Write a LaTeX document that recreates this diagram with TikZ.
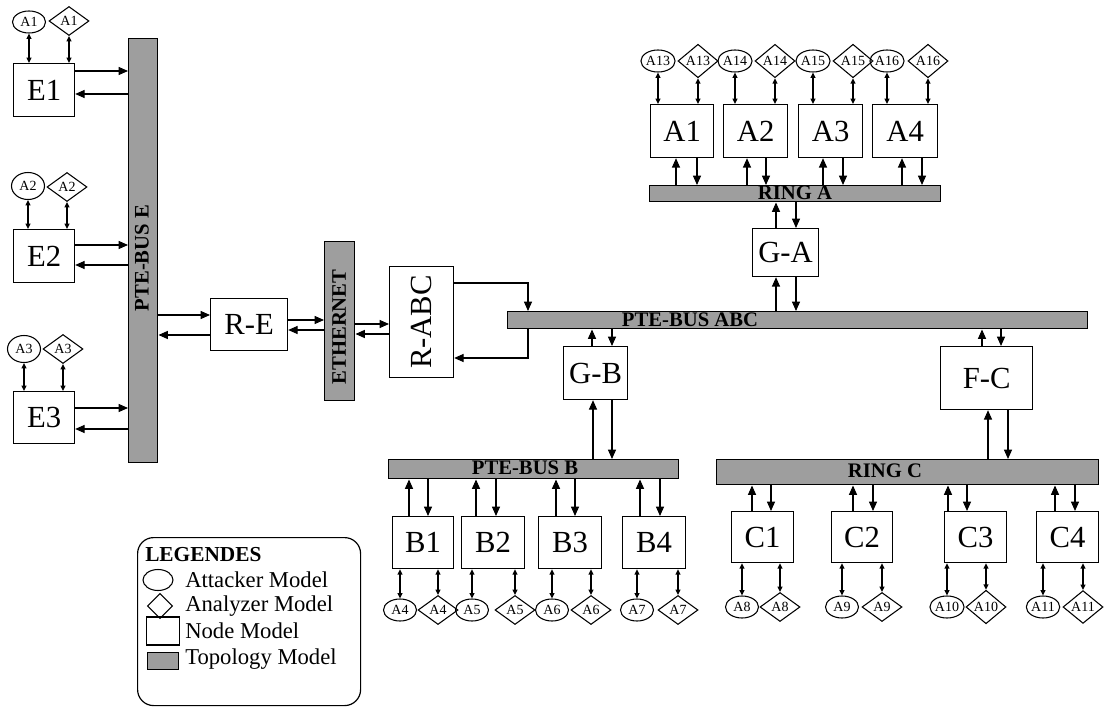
\documentclass[tikz,border=0pt]{standalone}
\usepackage{fontspec}
\setmainfont{Liberation Serif}
\usetikzlibrary{shapes.geometric,arrows.meta}

\newcommand\BoxN[6]{\node[nodebox,anchor=north west,minimum width={(#4-#2)*0.75pt},minimum height={(#5-#3)*0.75pt}] (#1) at (#2,#3) {#6};}
\newcommand\BarN[5]{\node[busbar,anchor=north west,minimum width={(#4-#2)*0.75pt},minimum height={(#5-#3)*0.75pt}] (#1) at (#2,#3) {};}
\newcommand\AttN[4]{\node[att] (#1) at (#2,#3) {#4};}
\newcommand\AnaN[4]{\node[ana] (#1) at (#2,#3) {#4};}

\tikzset{
  nodebox/.style={draw,line width=0.9pt,inner sep=0pt,font=\fontsize{23}{23}\selectfont},
  busbar/.style={draw,line width=1.1pt,inner sep=0pt,fill={rgb,255:red,158;green,158;blue,158}},
  buslabel/.style={font=\bfseries\fontsize{15.5}{15.5}\selectfont,text=black,inner sep=0pt},
  att/.style={ellipse,draw,line width=0.8pt,inner sep=0pt,minimum width=33*0.75pt,minimum height=22*0.75pt,font=\fontsize{10.5}{10.5}\selectfont},
  ana/.style={diamond,draw,line width=0.8pt,inner sep=0pt,minimum width=40*0.75pt,minimum height=29*0.75pt,font=\fontsize{10.5}{10.5}\selectfont},
  arr/.style={-{Triangle[length=7pt,width=6pt]},line width=0.8pt},
  dbl/.style={{Triangle[length=4pt,width=3.6pt]}-{Triangle[length=4pt,width=3.6pt]},line width=1pt},
  legtext/.style={anchor=west,inner sep=0pt,font=\fontsize{17}{17}\selectfont},
}

\begin{document}
\begin{tikzpicture}[x=0.75pt,y=-0.75pt]
\useasboundingbox (0,0) rectangle (1110,709);

% ---------------- E side ----------------
\BarN{busE}{128}{38}{157}{462}
\node[buslabel,rotate=90] (lbusE) at (142,258) {PTE-BUS E};

\BoxN{E1}{13}{63}{74}{116}{E1}
\BoxN{E2}{13}{229}{74}{282}{E2}
\BoxN{E3}{13}{391}{74}{443}{E3}
\AttN{e1a}{29}{22}{A1}  \AnaN{e1d}{69}{21}{A1}
\node[att,minimum height=27*0.75pt] (e2a) at (28,186) {A2}; \AnaN{e2d}{67}{187}{A2}
\node[att,minimum height=27*0.75pt] (e3a) at (24,349) {A3}; \AnaN{e3d}{63}{349}{A3}
\foreach \n/\b in {e1a/E1,e1d/E1,e2a/E2,e2d/E2,e3a/E3,e3d/E3}{
  \draw[dbl] (\n.south) -- (\b.north -| \n.south);
}
\draw[arr] (E1.east |- 0,71) -- (busE.west |- 0,71);
\draw[arr] (busE.west |- 0,94) -- (E1.east |- 0,94);
\draw[arr] (E2.east |- 0,245) -- (busE.west |- 0,245);
\draw[arr] (busE.west |- 0,265) -- (E2.east |- 0,265);
\draw[arr] (E3.east |- 0,408) -- (busE.west |- 0,408);
\draw[arr] (busE.west |- 0,429) -- (E3.east |- 0,429);

% ---------------- R-E / Ethernet / R-ABC ----------------
\BoxN{RE}{210}{298}{287}{350}{R-E}
\draw[arr] (busE.east |- 0,315) -- (RE.west |- 0,315);
\draw[arr] (RE.west |- 0,335) -- (busE.east |- 0,335);

\BarN{eth}{324}{241}{354}{400}
\node[buslabel,rotate=90] (leth) at (339,327) {ETHERNET};
\draw[arr] (RE.east |- 0,320) -- (eth.west |- 0,320);
\draw[arr] (eth.west |- 0,330) -- (RE.east |- 0,330);

\node[nodebox,anchor=north west,minimum width={64*0.75pt},minimum height={111*0.75pt}] (RABC) at (389,266) {};
\node[rotate=90,inner sep=0pt,font=\fontsize{23}{23}\selectfont] (lRABC) at (RABC.center) {R-ABC};
\draw[arr] (eth.east |- 0,324) -- (RABC.west |- 0,324);
\draw[arr] (RABC.west |- 0,334) -- (eth.east |- 0,334);

% ---------------- PTE-BUS ABC ----------------
\BarN{busABC}{507}{311}{1087}{328}
\node[buslabel] (lbusABC) at (690,320) {PTE-BUS ABC};
\draw[arr] (RABC.east |- 0,283) -| (busABC.north -| 528,0);
\draw[arr] (busABC.south -| 528,0) |- (RABC.east |- 0,358);

% ---------------- RING A ----------------
\BarN{ringA}{649}{185}{940}{201}
\node[buslabel] (lringA) at (795,193) {RING A};
\BoxN{A1}{650}{104}{713}{157}{A1}
\BoxN{A2}{723}{104}{787}{157}{A2}
\BoxN{A3}{798}{104}{862}{157}{A3}
\BoxN{A4}{872}{104}{937}{157}{A4}
\AttN{t13a}{658}{61}{A13} \AnaN{t13d}{698}{61}{A13}
\AttN{t14a}{735}{61}{A14} \AnaN{t14d}{775}{61}{A14}
\AttN{t15a}{813}{61}{A15} \AnaN{t15d}{853}{61}{A15}
\AttN{t16a}{887}{61}{A16} \AnaN{t16d}{928}{61}{A16}
\foreach \n/\b in {t13a/A1,t13d/A1,t14a/A2,t14d/A2,t15a/A3,t15d/A3,t16a/A4,t16d/A4}{
  \draw[dbl] (\n.south) -- (\b.north -| \n.south);
}
\foreach \b/\u/\d in {A1/676/697,A2/747/766,A3/823/843,A4/902/922}{
  \draw[arr] (ringA.north -| \u,0) -- (\b.south -| \u,0);
  \draw[arr] (\b.south -| \d,0) -- (ringA.north -| \d,0);
}

\BoxN{GA}{752}{228}{818}{276}{G-A}
\draw[arr] (GA.north -| 776,0) -- (ringA.south -| 776,0);
\draw[arr] (ringA.south -| 796,0) -- (GA.north -| 796,0);
\draw[arr] (busABC.north -| 776,0) -- (GA.south -| 776,0);
\draw[arr] (GA.south -| 796,0) -- (busABC.north -| 796,0);

% ---------------- G-B / PTE-BUS B ----------------
\BoxN{GB}{563}{346}{627}{399}{G-B}
\draw[arr] (GB.north -| 592,0) -- (busABC.south -| 592,0);
\draw[arr] (busABC.south -| 612,0) -- (GB.north -| 612,0);

\BarN{busB}{388}{459}{678}{478}
\node[buslabel] (lbusB) at (525,468) {PTE-BUS B};
\draw[arr] (busB.north -| 593,0) -- (GB.south -| 593,0);
\draw[arr] (GB.south -| 612,0) -- (busB.north -| 612,0);

\BoxN{B1}{392}{516}{453}{568}{B1}
\BoxN{B2}{461}{516}{524}{568}{B2}
\BoxN{B3}{538}{516}{601}{568}{B3}
\BoxN{B4}{622}{516}{685}{568}{B4}
\foreach \b/\u/\d in {B1/409/428,B2/476/496,B3/556/575,B4/640/660}{
  \draw[arr] (\b.north -| \u,0) -- (busB.south -| \u,0);
  \draw[arr] (busB.south -| \d,0) -- (\b.north -| \d,0);
}
\AttN{b4a}{400}{610}{A4} \AnaN{b4d}{438}{610}{A4}
\AttN{b5a}{472}{610}{A5} \AnaN{b5d}{515}{610}{A5}
\AttN{b6a}{552}{610}{A6} \AnaN{b6d}{591}{610}{A6}
\AttN{b7a}{637}{610}{A7} \AnaN{b7d}{678}{610}{A7}
\foreach \n/\b in {b4a/B1,b4d/B1,b5a/B2,b5d/B2,b6a/B3,b6d/B3,b7a/B4,b7d/B4}{
  \draw[dbl] (\b.south -| \n.north) -- (\n.north);
}

% ---------------- F-C / RING C ----------------
\BoxN{FC}{940}{346}{1032}{409}{F-C}
\draw[arr] (FC.north -| 982,0) -- (busABC.south -| 982,0);
\draw[arr] (busABC.south -| 1001,0) -- (FC.north -| 1001,0);

\BarN{ringC}{716}{459}{1098}{484}
\node[buslabel] (lringC) at (885,471) {RING C};
\draw[arr] (ringC.north -| 988,0) -- (FC.south -| 988,0);
\draw[arr] (FC.south -| 1008,0) -- (ringC.north -| 1008,0);

\BoxN{C1}{731}{511}{793}{562}{C1}
\BoxN{C2}{831}{511}{892}{562}{C2}
\BoxN{C3}{944}{511}{1006}{562}{C3}
\BoxN{C4}{1036}{511}{1098}{562}{C4}
\foreach \b/\u/\d in {C1/752/771,C2/853/873,C3/948/967,C4/1055/1075}{
  \draw[arr] (\b.north -| \u,0) -- (ringC.south -| \u,0);
  \draw[arr] (ringC.south -| \d,0) -- (\b.north -| \d,0);
}
\AttN{c8a}{742}{607}{A8}   \AnaN{c8d}{780}{607}{A8}
\AttN{c9a}{842}{607}{A9}   \AnaN{c9d}{882}{607}{A9}
\AttN{c10a}{947}{607}{A10} \AnaN{c10d}{986}{607}{A10}
\AttN{c11a}{1043}{607}{A11} \AnaN{c11d}{1083}{607}{A11}
\foreach \n/\b in {c8a/C1,c8d/C1,c9a/C2,c9d/C2,c10a/C3,c10d/C3,c11a/C4,c11d/C4}{
  \draw[dbl] (\b.south -| \n.north) -- (\n.north);
}

% ---------------- Legend ----------------
\node[draw,line width=0.9pt,rounded corners=12pt,anchor=north west,minimum width={223*0.75pt},minimum height={168*0.75pt}] (leg) at (137,537) {};
\node[anchor=west,inner sep=0pt,font=\bfseries\fontsize{16}{16}\selectfont] (legT) at (145,555) {LEGENDES};
\node[ellipse,draw,line width=0.8pt,inner sep=0pt,minimum width={30*0.75pt},minimum height={21*0.75pt}] (legA) at (158,580) {};
\node[diamond,draw,line width=0.8pt,inner sep=0pt,minimum width={25*0.75pt},minimum height={25*0.75pt}] (legD) at (160,606) {};
\node[draw,line width=0.8pt,inner sep=0pt,minimum width={33*0.75pt},minimum height={28*0.75pt}] (legN) at (163,631) {};
\node[busbar,line width=0.8pt,minimum width={31*0.75pt},minimum height={17*0.75pt}] (legB) at (163,661) {};
\node[legtext] (legAt) at (185,580) {Attacker Model};
\node[legtext] (legDt) at (185,606) {Analyzer Model};
\node[legtext] (legNt) at (185,631) {Node Model};
\node[legtext] (legBt) at (185,659) {Topology Model};
\end{tikzpicture}
\end{document}
